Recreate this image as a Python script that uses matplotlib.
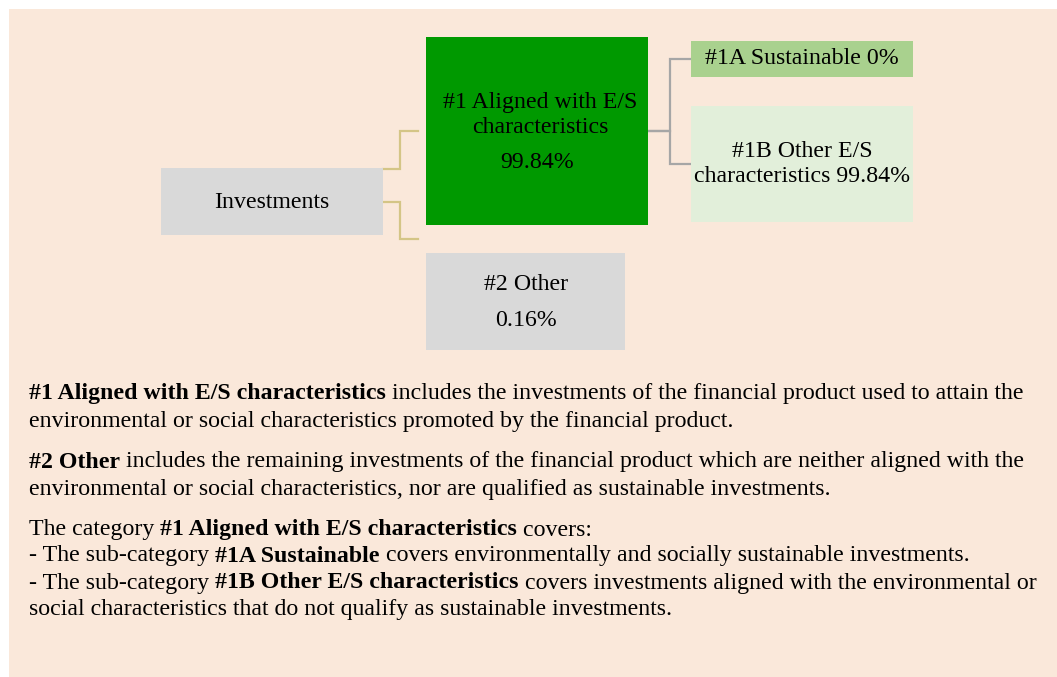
import matplotlib.pyplot as plt
from matplotlib.patches import Rectangle

plt.rcParams['font.family'] = ['Liberation Serif', 'DejaVu Serif']

# box labels / values
investments_label = 'Investments'
aligned_label = '#1 Aligned with E/S\ncharacteristics'
aligned_pct = '99.84%'
sustainable_label = '#1A Sustainable 0%'
other_es_label = '#1B Other E/S\ncharacteristics 99.84%'
other_label = '#2 Other'
other_pct = '0.16%'

# paragraph lines, as runs of (text, bold)
paragraph_lines = [
    [('#1 Aligned with E/S characteristics', True),
     (' includes the investments of the financial product used to attain the', False)],
    [('environmental or social characteristics promoted by the financial product.', False)],
    [('#2 Other', True),
     (' includes the remaining investments of the financial product which are neither aligned with the', False)],
    [('environmental or social characteristics, nor are qualified as sustainable investments.', False)],
    [('The category ', False), ('#1 Aligned with E/S characteristics', True), (' covers:', False)],
    [('- The sub-category ', False), ('#1A Sustainable', True),
     (' covers environmentally and socially sustainable investments.', False)],
    [('- The sub-category ', False), ('#1B Other E/S characteristics', True),
     (' covers investments aligned with the environmental or', False)],
    [('social characteristics that do not qualify as sustainable investments.', False)],
]
line_y = [393, 421, 462, 490, 530, 556, 583, 609]

BG = '#fae8da'
GRAY = '#d9d9d9'
GREEN = '#009900'
LGREEN = '#a9d18e'
PALE = '#e2efda'
GOLD = '#d4c586'
LINE_GRAY = '#a6a6a6'
FS = 17.2


def box(ax, x0, y0, x1, y1, color):
    ax.add_patch(Rectangle((x0, y0), x1 - x0, y1 - y0, facecolor=color, edgecolor='none', zorder=2))


def elbow(ax, x0, y0, xm, y1, x1, color):
    ax.plot([x0, xm, xm, x1], [y0, y0, y1, y1], color=color, lw=1.6, zorder=1,
            solid_joinstyle='miter')


def run_line(ax, fig, x, y, runs):
    r = fig.canvas.get_renderer()
    for txt, bold in runs:
        t = ax.text(x, y, txt, fontsize=FS, fontweight='bold' if bold else 'normal',
                    ha='left', va='center', color='black')
        bb = t.get_window_extent(renderer=r)
        x += bb.width * (1057 / fig.bbox.width)


def main():
    fig = plt.figure(figsize=(10.57, 6.77), dpi=100)
    ax = fig.add_axes([0, 0, 1, 1])
    ax.set_xlim(0, 1057)
    ax.set_ylim(677, 0)
    ax.axis('off')

    ax.add_patch(Rectangle((9, 9), 1048, 668, facecolor=BG, edgecolor='none', zorder=0))

    # connectors
    elbow(ax, 383, 169, 400, 131, 418, GOLD)
    elbow(ax, 383, 202, 400, 239, 418, GOLD)
    elbow(ax, 648, 131, 670, 59, 691, LINE_GRAY)
    elbow(ax, 648, 131, 670, 164, 691, LINE_GRAY)

    box(ax, 161, 168, 383, 235, GRAY)
    box(ax, 426, 37, 648, 225, GREEN)
    box(ax, 691, 41, 913, 77, LGREEN)
    box(ax, 691, 106, 913, 222, PALE)
    box(ax, 426, 253, 625, 350, GRAY)

    kw = dict(fontsize=FS, ha='center', va='center', zorder=3, linespacing=1.25)
    ax.text(272, 202, investments_label, **kw)
    ax.text(540, 115, aligned_label, **kw)
    ax.text(537, 162, aligned_pct, **kw)
    ax.text(802, 58, sustainable_label, **kw)
    ax.text(802, 164, other_es_label, **kw)
    ax.text(526, 284, other_label, **kw)
    ax.text(526, 320, other_pct, **kw)

    fig.canvas.draw()
    for y, runs in zip(line_y, paragraph_lines):
        run_line(ax, fig, 29, y, runs)

    fig.savefig('out.png', dpi=100, facecolor='white')


if __name__ == '__main__':
    main()
